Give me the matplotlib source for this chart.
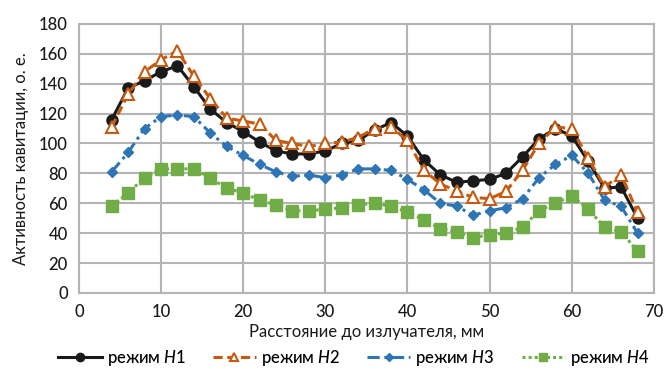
import matplotlib
matplotlib.use("Agg")
import matplotlib.pyplot as plt

plt.rcParams['font.family'] = ['Lato', 'DejaVu Sans']
plt.rcParams['font.weight'] = 'medium'
plt.rcParams['mathtext.fontset'] = 'custom'
plt.rcParams['mathtext.rm'] = 'Lato:medium'
plt.rcParams['mathtext.it'] = 'Lato:italic:medium'

x = [4, 6, 8, 10, 12, 14, 16, 18, 20, 22, 24, 26, 28, 30, 32, 34, 36, 38, 40,
     42, 44, 46, 48, 50, 52, 54, 56, 58, 60, 62, 64, 66, 68]
h1 = [116, 137, 142, 148, 152, 138, 123, 114, 108, 101, 95, 93, 93, 95, 100, 102, 109, 114, 105,
      89, 79, 74, 75, 76, 80, 91, 103, 110, 105, 88, 70, 71, 50]
h2 = [111, 133, 148, 156, 162, 145, 130, 117, 115, 113, 102, 100, 98, 100, 101, 104, 110, 111, 102,
      82, 73, 68, 64, 63, 68, 82, 100, 111, 110, 90, 71, 79, 54]
h3 = [81, 94, 110, 118, 119, 118, 107, 98, 92, 86, 81, 78, 79, 77, 79, 83, 83, 82, 76,
      69, 60, 58, 52, 55, 57, 63, 77, 86, 92, 80, 62, 58, 40]
h4 = [58, 67, 77, 83, 83, 83, 77, 70, 67, 62, 59, 55, 55, 56, 57, 59, 60, 58, 54,
      49, 43, 41, 37, 39, 40, 44, 55, 60, 65, 56, 44, 41, 28]
labels = ["режим $\\mathit{H}$1", "режим $\\mathit{H}$2", "режим $\\mathit{H}$3", "режим $\\mathit{H}$4"]
xlabel = "Расстояние до излучателя, мм"
ylabel = "Активность кавитации, о. е."

fig = plt.figure(figsize=(6.68, 3.68), dpi=100)
ax = fig.add_axes([0.118, 0.204, 0.861, 0.731])

ax.plot(x, h1, color='#1a1a1a', lw=2.2, ls='-', marker='o', ms=8, label=labels[0], zorder=5)
ax.plot(x, h2, color='#c55a11', lw=2.2, ls=(0, (3, 1.5)), marker='^', ms=8, mfc='white',
        mec='#c55a11', mew=1.5, label=labels[1], zorder=6)
ax.plot(x, h3, color='#2e75b6', lw=2.2, ls=(0, (4, 1.5, 1, 1.5)), marker='D', ms=5,
        label=labels[2], zorder=4)
ax.plot(x, h4, color='#70ad47', lw=2.2, ls=(0, (1, 1)), marker='s', ms=8,
        label=labels[3], zorder=3)

ax.set_xlim(0, 70)
ax.set_ylim(0, 180)
ax.set_xticks(range(0, 71, 10))
ax.set_yticks(range(0, 181, 20))
ax.grid(True, color='#b4b4b4', lw=1.5)
ax.set_axisbelow(True)
for s in ax.spines.values():
    s.set_color('#b4b4b4')
    s.set_linewidth(1.5)
ax.tick_params(length=0, labelsize=12, pad=8, colors='#1a1a1a')
ax.set_xlabel(xlabel, fontsize=12, labelpad=3, color='#1a1a1a')
ax.set_ylabel(ylabel, fontsize=12, labelpad=7, color='#1a1a1a')

fig.legend(loc='lower center', bbox_to_anchor=(0.53, -0.04), ncol=4, frameon=False,
           fontsize=12, handlelength=2.6, columnspacing=1.6, handletextpad=0.3,
           markerscale=0.75)

fig.savefig('out.png', dpi=100)
